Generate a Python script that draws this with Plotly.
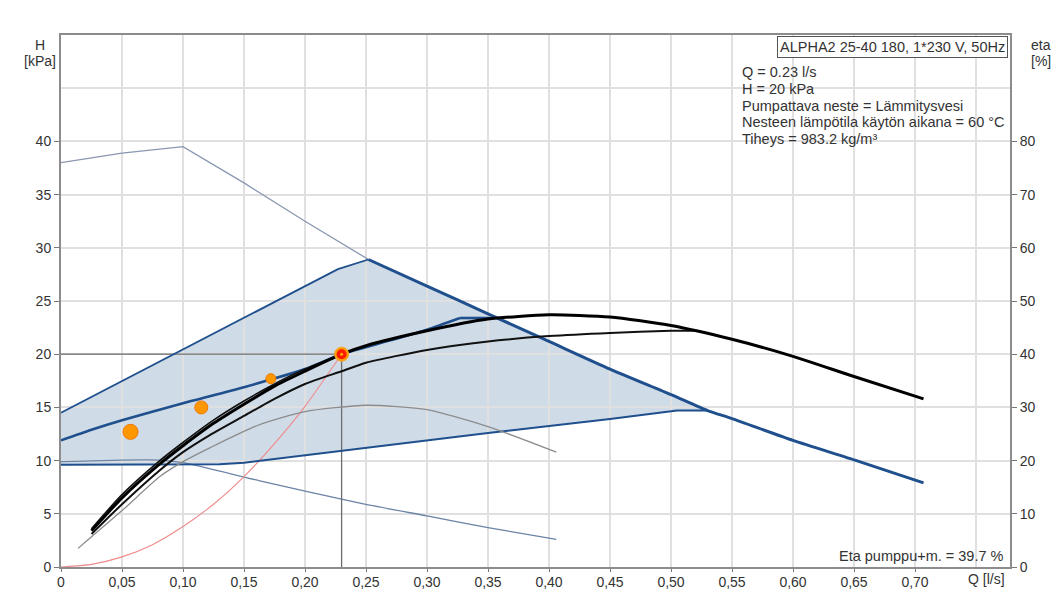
import plotly.graph_objects as go

# ---- axis ticks ----
q_ticks = [0, 0.05, 0.10, 0.15, 0.20, 0.25, 0.30, 0.35, 0.40, 0.45, 0.50, 0.55, 0.60, 0.65, 0.70]
q_tick_text = ["0", "0,05", "0,10", "0,15", "0,20", "0,25", "0,30", "0,35", "0,40",
               "0,45", "0,50", "0,55", "0,60", "0,65", "0,70"]
h_ticks = [0, 5, 10, 15, 20, 25, 30, 35, 40]
eta_ticks = [0, 10, 20, 30, 40, 50, 60, 70, 80]

# ---- operating range of the pump (shaded area) ----
upper_q = [0, 0.227, 0.252]
upper_h = [14.5, 28.0, 28.9]
max_q = [0.252, 0.30, 0.35, 0.40, 0.45, 0.50, 0.53, 0.55, 0.60, 0.652, 0.707]
max_h = [28.9, 26.4, 23.8, 21.2, 18.6, 16.2, 14.7, 13.95, 11.9, 10.0, 7.9]
lower_q = [0, 0.05, 0.10, 0.13, 0.15, 0.25, 0.35, 0.45, 0.505, 0.53]
lower_h = [9.6, 9.6, 9.6, 9.65, 9.8, 11.2, 12.6, 13.9, 14.7, 14.7]

# ---- control curve (blue) ----
ctrl_q = [0, 0.025, 0.05, 0.10, 0.15, 0.20, 0.23, 0.27, 0.30, 0.327, 0.352]
ctrl_h = [11.9, 12.9, 13.8, 15.4, 16.9, 18.6, 20.0, 21.3, 22.3, 23.4, 23.4]

# ---- pump curves (black) ----
pump_q = [0.025, 0.05, 0.08, 0.10, 0.125, 0.15, 0.175, 0.20, 0.23, 0.25, 0.30, 0.35,
          0.40, 0.45, 0.50, 0.55, 0.60, 0.65, 0.707]
pump_h = [3.4, 6.5, 9.6, 11.4, 13.5, 15.3, 17.0, 18.4, 20.0, 20.8, 22.2, 23.3,
          23.7, 23.5, 22.7, 21.4, 19.8, 17.9, 15.8]
pump2_q = [0.025, 0.05, 0.08, 0.10, 0.125, 0.15, 0.175, 0.20, 0.23]
pump2_h = [3.6, 6.8, 9.9, 11.7, 13.8, 15.6, 17.2, 18.6, 20.0]
pump3_q = [0.025, 0.05, 0.081, 0.10, 0.122, 0.15, 0.175, 0.20, 0.23, 0.25, 0.30,
           0.35, 0.40, 0.45, 0.50, 0.52]
pump3_h = [3.1, 5.9, 9.1, 10.8, 12.4, 14.2, 15.8, 17.2, 18.4, 19.2, 20.4,
           21.2, 21.7, 22.0, 22.2, 22.2]

# ---- power curves (thin) ----
p1_q = [0, 0.05, 0.10, 0.15, 0.20, 0.252]
p1_h = [38.0, 38.9, 39.5, 36.1, 32.5, 28.9]
p2_q = [0, 0.05, 0.08, 0.10, 0.163, 0.245, 0.30, 0.35, 0.406]
p2_h = [9.9, 10.05, 10.05, 9.8, 8.1, 6.0, 4.8, 3.7, 2.6]

# ---- efficiency curve [%] ----
eta_q = [0.014, 0.05, 0.081, 0.10, 0.122, 0.161, 0.20, 0.25, 0.30, 0.35, 0.406]
eta_v = [3.5, 10.6, 17.0, 19.8, 22.4, 26.6, 29.2, 30.4, 29.6, 26.4, 21.6]

# ---- system curve ----
sys_q = [0, 0.025, 0.05, 0.075, 0.10, 0.125, 0.15, 0.175, 0.20, 0.23]
sys_h = [0, 0.25, 0.95, 2.1, 3.8, 5.9, 8.5, 11.6, 15.1, 20.0]

# ---- duty point and earlier points ----
duty_q = [0.23]
duty_h = [20]
pts_q = [0.057, 0.115, 0.172]
pts_h = [12.7, 15.0, 17.7]

info_title = "ALPHA2 25-40 180, 1*230 V, 50Hz"
info_lines = ["Q = 0.23 l/s", "H = 20 kPa", "Pumpattava neste = Lämmitysvesi",
              "Nesteen lämpötila käytön aikana = 60 °C", "Tiheys = 983.2 kg/m³"]
eta_text = "Eta pumppu+m. = 39.7 %"

BLUE = "#1f4f8c"
FONT = "Liberation Sans, Arial, sans-serif"
TXT = "#333333"

W, H = 1064, 591
L, R, T, B = 61, 54, 35, 24
PW, PH = W - L - R, H - T - B


def px(xp):
    return (xp - L) / PW


def py(yp):
    return (H - B - yp) / PH


fig = go.Figure()

# shaded operating range, drawn under the grid
area_q = upper_q + max_q[1:7] + lower_q[::-1]
area_h = upper_h + max_h[1:7] + lower_h[::-1]
path = "M " + " L ".join(f"{q},{h}" for q, h in zip(area_q, area_h)) + " Z"
fig.add_shape(type="path", path=path, xref="x", yref="y", layer="below",
              fillcolor="#cfdbe7", line=dict(width=0))

# white panel behind the info text
fig.add_shape(type="rect", xref="paper", yref="paper", layer="between",
              x0=px(735), x1=px(1008), y0=py(150), y1=py(36),
              fillcolor="white", line=dict(width=0))


def line(q, h, color, width, yaxis="y"):
    fig.add_trace(go.Scatter(x=q, y=h, mode="lines", yaxis=yaxis, hoverinfo="skip",
                             line=dict(color=color, width=width, shape="spline", smoothing=0.6)))


def poly(q, h, color, width):
    fig.add_trace(go.Scatter(x=q, y=h, mode="lines", hoverinfo="skip",
                             line=dict(color=color, width=width)))


# thin power curves
poly(p1_q, p1_h, "#8a97b0", 1.3)
line(p2_q, p2_h, "#6a83a6", 1.3)

# efficiency curve
line(eta_q, eta_v, "#8c8c8c", 1.3, yaxis="y2")

# system curve
line(sys_q, sys_h, "#f08a8a", 1.1)

# duty point cross lines
fig.add_trace(go.Scatter(x=[0, duty_q[0], duty_q[0]], y=[duty_h[0], duty_h[0], 0],
                         mode="lines", hoverinfo="skip",
                         line=dict(color="#6e6e6e", width=1.3)))

# operating range borders
poly(upper_q, upper_h, BLUE, 1.8)
poly(lower_q, lower_h, BLUE, 2.0)
line(max_q, max_h, BLUE, 3.0)
line(ctrl_q[:-1], ctrl_h[:-1], BLUE, 2.6)
poly(ctrl_q[-2:], ctrl_h[-2:], BLUE, 2.6)

# pump curves
line(pump3_q, pump3_h, "#111111", 2.0)
line(pump2_q, pump2_h, "#111111", 1.6)
line(pump_q, pump_h, "#000000", 3.0)

# markers
fig.add_trace(go.Scatter(x=pts_q, y=pts_h, mode="markers", hoverinfo="skip",
                         marker=dict(size=[15, 13, 10], color="#ff9800", opacity=1,
                                     line=dict(color="#f07800", width=1))))
fig.add_trace(go.Scatter(x=duty_q, y=duty_h, mode="markers", hoverinfo="skip",
                         marker=dict(size=14, color="#ffa000", opacity=1,
                                     line=dict(color="#f5a623", width=1))))
fig.add_trace(go.Scatter(x=duty_q, y=duty_h, mode="markers", hoverinfo="skip",
                         marker=dict(size=10, color="#ff1a00", opacity=1, line=dict(width=0))))
fig.add_trace(go.Scatter(x=duty_q, y=duty_h, mode="markers", hoverinfo="skip",
                         marker=dict(size=3, color="#ffb000", opacity=1, line=dict(width=0))))

axis_common = dict(showline=True, linecolor="#8c8c8c", linewidth=2, automargin=False,
                   ticks="outside", tickcolor="#777777", tickwidth=1,
                   tickfont=dict(family=FONT, size=14, color=TXT), zeroline=False)

fig.update_layout(
    width=W, height=H,
    margin=dict(l=L, r=R, t=T, b=B, autoexpand=False),
    paper_bgcolor="white", plot_bgcolor="white",
    showlegend=False,
    xaxis=dict(range=[0, (1010 - L) / 1220], tickvals=q_ticks, ticktext=q_tick_text,
               showgrid=True, gridcolor="#e0e0e0", gridwidth=2, mirror=True,
               ticklen=3, ticklabelstandoff=-2,
               minor=dict(tickvals=[0.75], showgrid=True, gridcolor="#e0e0e0",
                          gridwidth=2, ticklen=0),
               **axis_common),
    yaxis=dict(range=[0, 50], tickvals=h_ticks, showgrid=True, gridcolor="#e0e0e0",
               gridwidth=2, mirror=True, ticklen=5,
               minor=dict(tickvals=[45], showgrid=True, gridcolor="#e0e0e0",
                          gridwidth=2, ticklen=0),
               **axis_common),
    yaxis2=dict(range=[0, 100], tickvals=eta_ticks, overlaying="y", side="right",
                showgrid=False, ticklen=5, **axis_common),
)

ann = []
ann.append(dict(text="H", x=px(40), y=py(45)))
ann.append(dict(text="[kPa]", x=px(40), y=py(61)))
ann.append(dict(text="eta", x=px(1041), y=py(45)))
ann.append(dict(text="[%]", x=px(1041), y=py(61)))
ann.append(dict(text="Q [l/s]", x=px(986), y=py(579)))
for a in ann:
    a.update(xref="paper", yref="paper", showarrow=False, xanchor="center",
             yanchor="middle", font=dict(family=FONT, size=14, color=TXT))
    fig.add_annotation(**a)

fig.add_annotation(text=info_title, xref="paper", yref="paper", x=px(1008), y=py(47),
                   xanchor="right", yanchor="middle", showarrow=False,
                   bgcolor="white", bordercolor="#555555", borderwidth=1, borderpad=2,
                   font=dict(family=FONT, size=14.5, color=TXT))
for i, t in enumerate(info_lines):
    fig.add_annotation(text=t, xref="paper", yref="paper", x=px(740), y=py(72 + 16.8 * i),
                       xanchor="left", yanchor="middle", showarrow=False,
                       font=dict(family=FONT, size=14.5, color=TXT))
fig.add_annotation(text=eta_text, xref="paper", yref="paper", x=px(1006), y=py(556),
                   xanchor="right", yanchor="middle", showarrow=False,
                   font=dict(family=FONT, size=14.5, color=TXT))

fig.write_html("out.html")
